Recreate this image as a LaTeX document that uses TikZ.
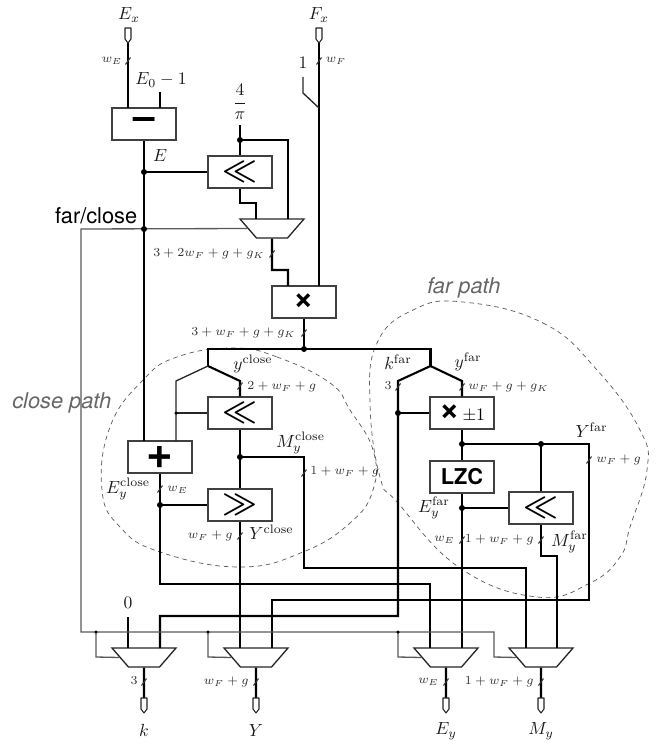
\documentclass[tikz,border=0pt]{standalone}
\usepackage{amsmath}
\usepackage{fontspec}
\setsansfont{TeX Gyre Heros}
\usetikzlibrary{shapes.geometric}
\newdimen\pxu \pxu=0.5693pt
\tikzset{
  wire/.style={line width=1.2pt,black,line join=miter},
  sel/.style={line width=0.75pt,black!65},
  thinw/.style={line width=0.75pt,black!85},
  opbox/.style={draw=black!75,line width=0.75pt,fill=white,minimum width=64\pxu,minimum height=32\pxu,inner sep=0pt},
  muxn/.style={draw=black!85,line width=0.75pt,fill=white,trapezium,shape border rotate=180,trapezium angle=62,trapezium stretches=true,minimum width=64\pxu,minimum height=19\pxu,inner sep=0pt},
  jdot/.style={circle,fill=black,inner sep=0pt,minimum size=6\pxu},
  sdot/.style={circle,fill=black,inner sep=0pt,minimum size=3.5\pxu},
  slash/.style={line width=0.6pt,black!80},
  blob/.style={dash pattern=on 2.6pt off 2.2pt,line width=0.4pt,black!65},
  lab/.style={inner sep=0pt,text=black!90},
  wlab/.style={inner sep=0pt,font=\scriptsize,text=black!80},
  pathlab/.style={inner sep=0pt,font=\fontsize{12.4}{14}\sffamily\itshape,text=black!60},
  portline/.style={draw=black!85,line width=0.6pt,fill=white,line join=round},
}
\newcommand{\opf}[1]{\fontsize{#1}{#1}\selectfont\sffamily\bfseries}
\newcommand{\muxfill}{\phantom{\rule{2pt}{2pt}}}
\newcommand{\portdraw}[1]{\draw[portline,shift={(#1)}] (-3,0) -- (3,0) -- (3,11) -- (0,15) -- (-3,11) -- cycle;}
\newcommand{\slashat}[1]{\draw[slash,shift={(#1)}] (-2.5,3.5) -- (2.5,-3.5);}
\begin{document}
\begin{tikzpicture}[x=\pxu,y=-\pxu]
\useasboundingbox (0,0) rectangle (660,744);
% blobs
\draw[blob] plot[smooth cycle,tension=0.75] coordinates {(233,348)(277,357)(330,383)(350,410)(373,450)(373,490)(350,523)(303,552)(240,567)(160,552)(120,527)(102,490)(110,427)(143,380)(177,357)};
\draw[blob] plot[smooth cycle,tension=0.75] coordinates {(463,302)(543,323)(597,370)(640,430)(647,470)(630,527)(620,557)(590,583)(537,597)(460,568)(398,503)(380,477)(370,403)(377,343)(413,310)};
% boxes
\node[opbox] (sub) at (144,124) {\opf{22}\raisebox{0.02em}{--}};
\node[opbox] (shA) at (240,172) {\fontsize{17}{17}\selectfont$\boldsymbol{\ll}$};
\node[opbox] (mul) at (304,302) {\opf{20}\char"00D7};
\node[opbox] (add) at (160,457) {\opf{26}+};
\node[opbox] (shB) at (240,413) {\fontsize{17}{17}\selectfont$\boldsymbol{\ll}$};
\node[opbox] (shR) at (240,505) {\fontsize{17}{17}\selectfont$\boldsymbol{\gg}$};
\node[opbox] (neg) at (462,413) {{\opf{20}\char"00D7}\,$\pm1$};
\node[opbox] (lzc) at (462,477) {\opf{12.4}LZC};
\node[opbox] (shF) at (541,508) {\fontsize{17}{17}\selectfont$\boldsymbol{\ll}$};
% muxes
\node[muxn] (mA) at (272,228.5) {\muxfill};
\node[muxn] (mk) at (144,657.5) {\muxfill};
\node[muxn] (mY) at (256,657.5) {\muxfill};
\node[muxn] (mE) at (446,657.5) {\muxfill};
\node[muxn] (mM) at (541,657.5) {\muxfill};
% coordinates
\coordinate (pEx) at (128,43);
\coordinate (pFx) at (319,43);
\coordinate (subB) at (128,108);
\coordinate (subC) at (160,108);
\coordinate (subCt) at (160,92);
\coordinate (jE) at (144,172);
\coordinate (jS) at (144,229);
\coordinate (addA) at (144,441);
\coordinate (addB) at (176,441);
\coordinate (piT) at (240,125);
\coordinate (jPi) at (240,140);
\coordinate (jPiR) at (288,140);
\coordinate (mAr) at (288,219);
\coordinate (mAl) at (256,219);
\coordinate (mulA) at (288,286);
\coordinate (mulB) at (319,286);
\coordinate (mAo1) at (272,270);
\coordinate (mAo2) at (288,270);
\coordinate (oneT) at (303,77);
\coordinate (oneB) at (303,93);
\coordinate (oneJ) at (319,108);
\coordinate (jM) at (304,349);
\coordinate (hL) at (208,349);
\coordinate (hR) at (430.5,349);
\coordinate (fkL) at (208,366);
\coordinate (fkLl) at (176,381);
\coordinate (fkLr) at (240,381);
\coordinate (fkR) at (430.5,366);
\coordinate (fkRl) at (398,381);
\coordinate (fkRr) at (462,381);
\coordinate (jSh) at (176,413);
\coordinate (jMc) at (240,457);
\coordinate (jMcR) at (304,457);
\coordinate (jEc) at (160,505);
\coordinate (k1) at (398,413);
\coordinate (jYf) at (462,444);
\coordinate (jYf2) at (541,444);
\coordinate (cYf) at (589,444);
\coordinate (jEf) at (462,508);
% wires
\draw[wire] (pEx) -- (subB);
\draw[wire] (subCt) -- (subC);
\draw[wire] (sub.south) -- (addA);
\draw[wire] (jE) -- (shA.west);
\draw[wire] (piT) -- (shA.north);
\draw[wire] (jPi) -- (jPiR) -- (mAr);
\draw[wire] (shA.south) -- (240,203) -- (256,203) -- (mAl);
\draw[wire] (mA.south) -- (mAo1) -- (mAo2) -- (mulA);
\draw[wire] (pFx) -- (mulB);
\draw[thinw] (oneT) -- (oneB) -- (oneJ);
\draw[wire] (mul.south) -- (jM);
\draw[wire] (fkL) -- (hL) -- (hR) -- (fkR);
\draw[thinw] (fkL) -- (fkLl) -- (addB);
\draw[wire] (fkL) -- (fkLr) -- (shB.north);
\draw[thinw] (jSh) -- (shB.west);
\draw[wire] (shB.south) -- (shR.north);
\draw[wire] (add.south) -- (160,584) -- (430,584) -- (430,648);
\draw[wire] (jEc) -- (shR.west);
\draw[wire] (shR.south) -- (240,648);
\draw[wire] (jMc) -- (jMcR) -- (304,568) -- (526,568) -- (526,648);
\draw[wire] (fkR) -- (fkRl) -- (398,616) -- (160,616) -- (160,648);
\draw[wire] (fkR) -- (fkRr) -- (neg.north);
\draw[wire] (k1) -- (neg.west);
\draw[wire] (neg.south) -- (lzc.north);
\draw[wire] (jYf) -- (cYf) -- (589,600) -- (272,600) -- (272,648);
\draw[wire] (jYf2) -- (shF.north);
\draw[wire] (lzc.south) -- (462,648);
\draw[wire] (jEf) -- (shF.west);
\draw[wire] (shF.south) -- (541,556) -- (557,556) -- (557,648);
\draw[wire] (128,617) -- (128,648);
% select
\draw[sel] (mA.west) -- (81,229) -- (81,632) -- (494,632) -- (494,657) -- (mM.west);
\draw[sel] (96,632) -- (96,657) -- (mk.west);
\draw[sel] (208,632) -- (208,657) -- (mY.west);
\draw[sel] (398,632) -- (398,657) -- (mE.west);
% outputs
\draw[wire] (mk.south) -- (144,698);
\draw[wire] (mY.south) -- (256,698);
\draw[wire] (mE.south) -- (446,698);
\draw[wire] (mM.south) -- (541,698);
% dots
\foreach \n/\p in {d1/jE,d2/jS,d3/jPi,d4/jM,d5/jMc,d6/jEc,d7/k1,d8/jYf,d9/jYf2,d10/jEf}
  \node[jdot] (\n) at (\p) {};
\node[sdot] (s1) at (jSh) {};
\node[sdot] (s2) at (96,632) {};
\node[sdot] (s3) at (208,632) {};
\node[sdot] (s4) at (398,632) {};
% ports
\portdraw{128,28}
\portdraw{319,28}
\portdraw{144,698}
\portdraw{256,698}
\portdraw{446,698}
\portdraw{541,698}
% slashes
\slashat{128,61}\slashat{319,61}\slashat{272,254}\slashat{304,333}\slashat{240,386}\slashat{304,473}\slashat{160,489}\slashat{240,536}\slashat{398,387}\slashat{462,387}\slashat{589,460}\slashat{462,540}\slashat{541,540}\slashat{144,682}\slashat{256,682}\slashat{446,682}\slashat{541,682}
% labels
\node[lab] (tEx) at (129,15) {$E_x$};
\node[lab] (tFx) at (319,15) {$F_x$};
\node[lab] (tE0) at (161,80) {$E_0-1$};
\node[lab] (tPi) at (240,102) {$\displaystyle\frac{4}{\pi}$};
\node[lab] (tOne) at (303,63) {$1$};
\node[lab] (tE) at (160,155) {$E$};
\node[lab,anchor=east,font=\fontsize{12.4}{14}\sffamily,text=black] (tfc) at (137.5,216) {far/close};
\node[pathlab,anchor=west] (tcp) at (12,403) {close path};
\node[pathlab,anchor=west] (tfp) at (427,288) {far path};
\node[lab] (tyc) at (253,364) {$y^{\mathrm{close}}$};
\node[lab] (tMc) at (300.5,443) {$M_y^{\mathrm{close}}$};
\node[lab] (tEc) at (128,489) {$E_y^{\mathrm{close}}$};
\node[lab] (tYc) at (271.5,532) {$Y^{\mathrm{close}}$};
\node[lab] (tkf) at (398,362) {$k^{\mathrm{far}}$};
\node[lab] (tyf) at (468,362) {$y^{\mathrm{far}}$};
\node[lab] (tYf) at (591.5,430) {$Y^{\mathrm{far}}$};
\node[lab] (tEf) at (434,508) {$E_y^{\mathrm{far}}$};
\node[lab] (tMf) at (569.5,542) {$M_y^{\mathrm{far}}$};
\node[lab] (t0) at (128,603) {$0$};
\node[lab] (tk) at (144,730) {$k$};
\node[lab] (tY) at (256,730) {$Y$};
\node[lab] (tEy) at (446,731) {$E_y$};
\node[lab] (tMy) at (541,731) {$M_y$};
\node[wlab] (w1) at (112,61) {$w_E$};
\node[wlab] (w2) at (336,61) {$w_F$};
\node[wlab,anchor=east] (w3) at (265,254) {$3+2w_F+g+g_K$};
\node[wlab,anchor=east] (w4) at (296,333) {$3+w_F+g+g_K$};
\node[wlab,anchor=west] (w5) at (247,387) {$2+w_F+g$};
\node[wlab,anchor=west] (w6) at (310,472) {$1+w_F+g$};
\node[wlab,anchor=west] (w7) at (167,490) {$w_E$};
\node[wlab,anchor=east] (w8) at (233,536) {$w_F+g$};
\node[wlab,anchor=east] (w9) at (392,386) {$3$};
\node[wlab,anchor=west] (w10) at (468,387) {$w_F+g+g_K$};
\node[wlab,anchor=west] (w11) at (596,460) {$w_F+g$};
\node[wlab,anchor=east] (w12) at (455,540) {$w_E$};
\node[wlab,anchor=east] (w13) at (534,540) {$1+w_F+g$};
\node[wlab,anchor=east] (w14) at (138,681) {$3$};
\node[wlab,anchor=east] (w15) at (249,682) {$w_F+g$};
\node[wlab,anchor=east] (w16) at (439,682) {$w_E$};
\node[wlab,anchor=east] (w17) at (534,682) {$1+w_F+g$};
\end{tikzpicture}
\end{document}
